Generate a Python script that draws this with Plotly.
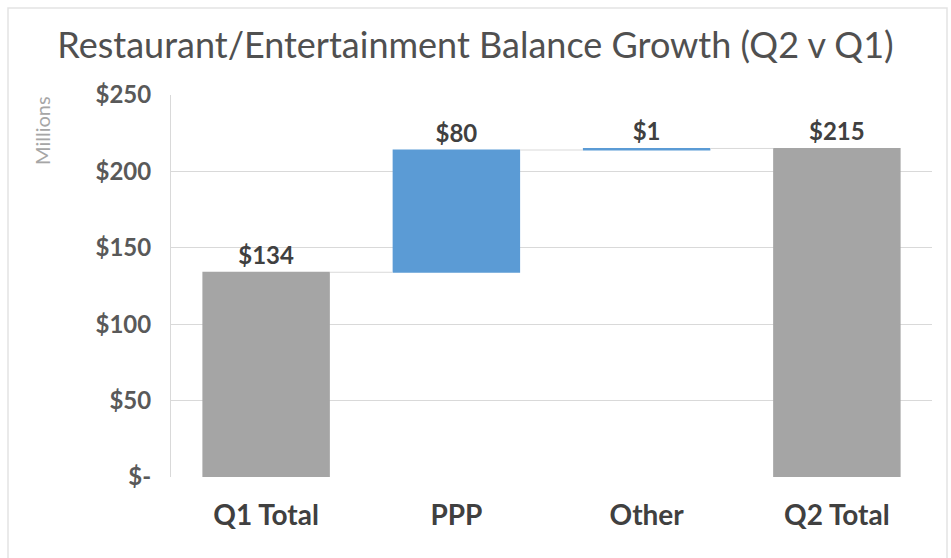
import plotly.graph_objects as go

# Balance movement, $ millions
categories = ["Q1 Total", "PPP", "Other", "Q2 Total"]
measures = ["absolute", "relative", "relative", "total"]
values = [134, 80, 1, 0]
tick_vals = [0, 50, 100, 150, 200, 250]
tick_text = ["$-", "$50", "$100", "$150", "$200", "$250"]

q2_total = sum(values[:3])
labels = [f"${v}" for v in values[:3]] + [f"${q2_total}"]

W, H = 951, 558
L, R, T, B = 171, 19, 95, 81
FONT = "Lato, 'Open Sans', sans-serif"

fig = go.Figure(go.Waterfall(
    x=categories,
    y=values,
    measure=measures,
    text=labels,
    textposition="outside",
    cliponaxis=False,
    textfont=dict(family=FONT, size=24, color="#404040", weight="bold"),
    increasing=dict(marker=dict(color="#5B9BD5")),
    decreasing=dict(marker=dict(color="#ED7D31")),
    totals=dict(marker=dict(color="#A5A5A5")),
    connector=dict(line=dict(color="#D9D9D9", width=1)),
    width=0.67,
    showlegend=False,
))

# light frame around the chart
pw = W - L - R
ph = H - T - B
def px_x(p):
    return (p - L) / pw
def px_y(p):
    return 1 - (p - T) / ph

fig.add_shape(type="rect", xref="paper", yref="paper",
              x0=px_x(8), x1=px_x(947), y0=px_y(566), y1=px_y(8),
              line=dict(color="#E3E3E3", width=1.5), layer="below")

fig.add_annotation(text="Millions", xref="paper", yref="paper",
                   x=px_x(42), y=px_y(131), xanchor="center", yanchor="middle",
                   textangle=-90, showarrow=False,
                   font=dict(family=FONT, size=20, color="#A6A6A6"))

fig.update_layout(
    width=W, height=H,
    margin=dict(l=L, r=R, t=T, b=B),
    paper_bgcolor="white", plot_bgcolor="white",
    title=dict(text="Restaurant/Entertainment Balance Growth (Q2 v Q1)",
               x=0.5, xref="container", xanchor="center",
               y=1 - 45 / H, yref="container", yanchor="middle",
               font=dict(family=FONT, size=36, color="#505050")),
    xaxis=dict(showgrid=False, showline=False, zeroline=False,
               ticklabelstandoff=19,
               tickfont=dict(family=FONT, size=28, color="#404040", weight="bold")),
    yaxis=dict(range=[0, 250], tickvals=tick_vals, ticktext=tick_text,
               showgrid=True, gridcolor="#D9D9D9", gridwidth=1,
               showline=True, linecolor="#D9D9D9", zeroline=False,
               ticklabelstandoff=14,
               tickfont=dict(family=FONT, size=24, color="#595959", weight="bold")),
)

fig.write_html("out.html")
